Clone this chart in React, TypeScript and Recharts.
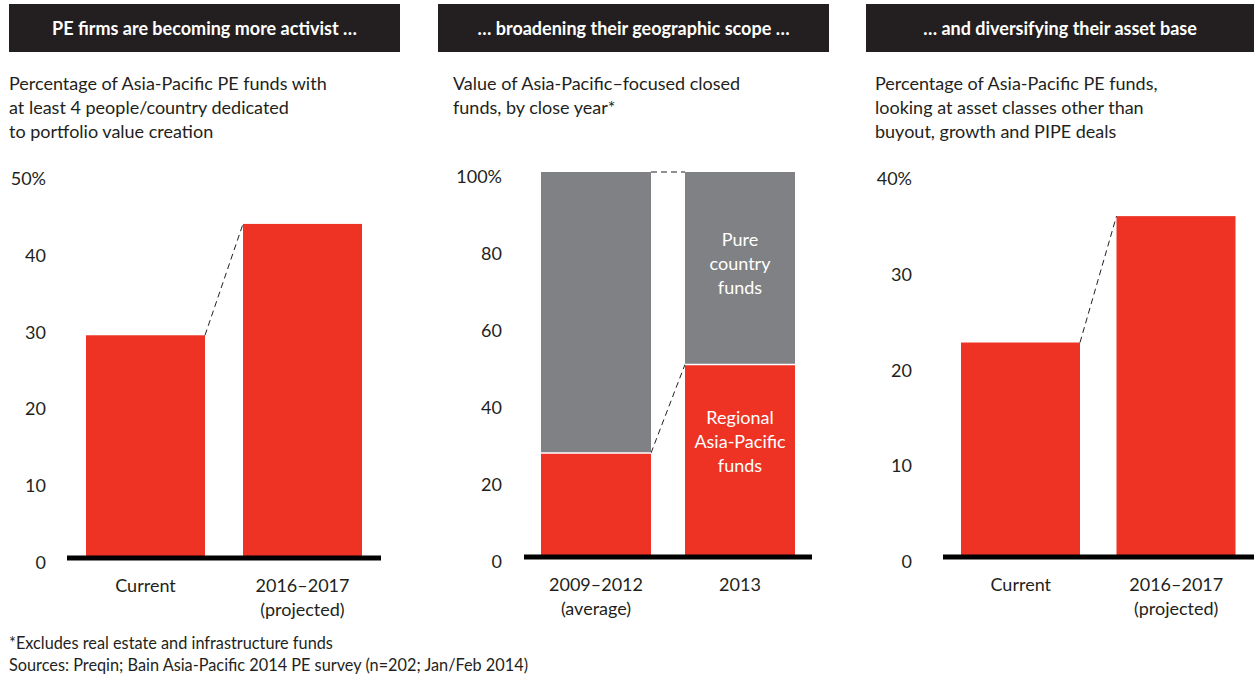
import React from "react";
import { BarChart, Bar, XAxis, YAxis } from "recharts";

const RED = "#ee3224";
const GREY = "#808184";
const INK = "#231f20";
const FONT = "Lato, 'Noto Sans', sans-serif";

// panel 1: activism
const activistCategories = ["Current", "2016–2017"];
const activistSubLabels = ["", "(projected)"];
const activistValues = [29, 43.5];
const activistTicks = [0, 10, 20, 30, 40, 50];

// panel 2: geographic scope (stacked, %)
const scopeCategories = ["2009–2012", "2013"];
const scopeSubLabels = ["(average)", ""];
const regionalShare = [27, 50];
const countryShare = [73, 50];
const scopeTicks = [0, 20, 40, 60, 80, 100];
const regionalLabel = ["Regional", "Asia-Pacific", "funds"];
const countryLabel = ["Pure", "country", "funds"];

// panel 3: asset base
const assetCategories = ["Current", "2016–2017"];
const assetSubLabels = ["", "(projected)"];
const assetValues = [22.4, 35.6];
const assetTicks = [0, 10, 20, 30, 40];

const headers = [
  "PE firms are becoming more activist …",
  "… broadening their geographic scope …",
  "… and diversifying their asset base",
];
const subtitles = [
  ["Percentage of Asia-Pacific PE funds with", "at least 4 people/country dedicated", "to portfolio value creation"],
  ["Value of Asia-Pacific–focused closed", "funds, by close year*"],
  ["Percentage of Asia-Pacific PE funds,", "looking at asset classes other than", "buyout, growth and PIPE deals"],
];
const notes = [
  "*Excludes real estate and infrastructure funds",
  "Sources: Preqin; Bain Asia-Pacific 2014 PE survey (n=202; Jan/Feb 2014)",
];

const yTick = (top: number) => (props: any) => {
  const { x, y, payload } = props;
  return (
    <text x={x} y={y + 4} textAnchor="end" dominantBaseline="central" fontSize={18} fill={INK} fontFamily={FONT}>
      {payload.value === top ? `${payload.value}%` : payload.value}
    </text>
  );
};

const xTick = (subs: string[]) => (props: any) => {
  const { x, y, payload, index } = props;
  return (
    <g>
      <text x={x} y={y + 27} textAnchor="middle" dominantBaseline="central" fontSize={18} fill={INK} fontFamily={FONT}>
        {payload.value}
      </text>
      {subs[index] ? (
        <text x={x} y={y + 51} textAnchor="middle" dominantBaseline="central" fontSize={18} fill={INK} fontFamily={FONT}>
          {subs[index]}
        </text>
      ) : null}
    </g>
  );
};

// bar shape that also draws the dashed connector back to the previous bar's top
const connectedShape =
  (seg: number[], tops: number[], gap: number, label?: string[], labelShift = 0, divider = false) =>
  (props: any) => {
    const { x, y, width, height, index } = props;
    const parts: React.ReactNode[] = [
      <rect key="r" x={x} y={y} width={width} height={height} fill={props.fill} />,
    ];
    if (divider) {
      // thin white seam where this segment sits on the one below
      parts.push(<line key="d" x1={x} x2={x + width} y1={y + height} y2={y + height} stroke="#fff" strokeWidth={1.5} />);
    }
    if (index > 0) {
      const perUnit = height / seg[index];
      const zeroY = y + tops[index] * perUnit;
      const prevY = zeroY - tops[index - 1] * perUnit;
      parts.push(
        <line key="c" x1={x - gap} y1={prevY} x2={x} y2={y} stroke={INK} strokeWidth={1} strokeDasharray="6 4" />
      );
    }
    if (label && index === 1) {
      const cy = y + height / 2 + labelShift;
      label.forEach((t, i) => {
        parts.push(
          <text key={`l${i}`} x={x + width / 2} y={cy + (i - 1) * 24} textAnchor="middle" dominantBaseline="central" fontSize={18} fill="#fff" fontFamily={FONT}>
            {t}
          </text>
        );
      });
    }
    return <g>{parts}</g>;
  };

const activistData = activistCategories.map((c, i) => ({ name: c, value: activistValues[i] }));
const scopeData = scopeCategories.map((c, i) => ({ name: c, regional: regionalShare[i], country: countryShare[i] }));
const assetData = assetCategories.map((c, i) => ({ name: c, value: assetValues[i] }));
const scopeTotals = regionalShare.map((r, i) => r + countryShare[i]);

const axisLine = { stroke: "#000", strokeWidth: 5 };

export default function App() {
  const headerLefts = [9, 438, 866];
  const headerWidths = [391, 391, 388];
  const subLefts = [9, 453, 875];
  return (
    <div style={{ position: "absolute", left: 0, top: 0, width: 1254, height: 678, background: "#fff", fontFamily: FONT, color: INK, overflow: "hidden" }}>
      {headers.map((h, i) => (
        <div key={h} style={{ position: "absolute", left: headerLefts[i], top: 4, width: headerWidths[i], height: 48, background: INK, color: "#fff", fontWeight: 700, fontSize: 18, lineHeight: "48px", textAlign: "center" }}>
          {h}
        </div>
      ))}
      {subtitles.map((lines, i) => (
        <div key={i} style={{ position: "absolute", left: subLefts[i], top: 71, fontSize: 18, lineHeight: "24px", whiteSpace: "nowrap" }}>
          {lines.map((l) => (
            <div key={l}>{l}</div>
          ))}
        </div>
      ))}

      <div style={{ position: "absolute", left: 0, top: 150 }}>
        <BarChart width={400} height={470} data={activistData} margin={{ top: 24, right: 19, left: 7, bottom: 12 }} barSize={119}>
          <YAxis domain={[0, 50]} ticks={activistTicks} axisLine={false} tickLine={false} tickSize={0} tickMargin={21} width={60} tick={yTick(50)} />
          <Bar dataKey="value" fill={RED} isAnimationActive={false} shape={connectedShape(activistValues, activistValues, 38)} />
          <XAxis dataKey="name" axisLine={axisLine} tickLine={false} tickSize={0} tickMargin={0} height={50} tick={xTick(activistSubLabels)} interval={0} />
        </BarChart>
      </div>

      <div style={{ position: "absolute", left: 420, top: 150 }}>
        <BarChart width={420} height={470} data={scopeData} margin={{ top: 22, right: 28, left: 44, bottom: 13 }} barSize={110}>
          <YAxis domain={[0, 100]} ticks={scopeTicks} axisLine={false} tickLine={false} tickSize={0} tickMargin={22} width={60} tick={yTick(100)} />
          <Bar dataKey="regional" stackId="s" fill={RED} isAnimationActive={false} shape={connectedShape(regionalShare, regionalShare, 34, regionalLabel, -20)} />
          <Bar dataKey="country" stackId="s" fill={GREY} isAnimationActive={false} shape={connectedShape(countryShare, scopeTotals, 34, countryLabel, -5, true)} />
          <XAxis dataKey="name" axisLine={axisLine} tickLine={false} tickSize={0} tickMargin={0} height={50} tick={xTick(scopeSubLabels)} interval={0} />
        </BarChart>
      </div>

      <div style={{ position: "absolute", left: 850, top: 150 }}>
        <BarChart width={404} height={470} data={assetData} margin={{ top: 24, right: 0, left: 33, bottom: 13 }} barSize={119}>
          <YAxis domain={[0, 40]} ticks={assetTicks} axisLine={false} tickLine={false} tickSize={0} tickMargin={31} width={60} tick={yTick(40)} />
          <Bar dataKey="value" fill={RED} isAnimationActive={false} shape={connectedShape(assetValues, assetValues, 36.5)} />
          <XAxis dataKey="name" axisLine={axisLine} tickLine={false} tickSize={0} tickMargin={0} height={50} tick={xTick(assetSubLabels)} interval={0} />
        </BarChart>
      </div>

      <div style={{ position: "absolute", left: 9, top: 632, fontSize: 16.3, lineHeight: "22px", whiteSpace: "nowrap" }}>
        {notes.map((n) => (
          <div key={n}>{n}</div>
        ))}
      </div>
    </div>
  );
}
